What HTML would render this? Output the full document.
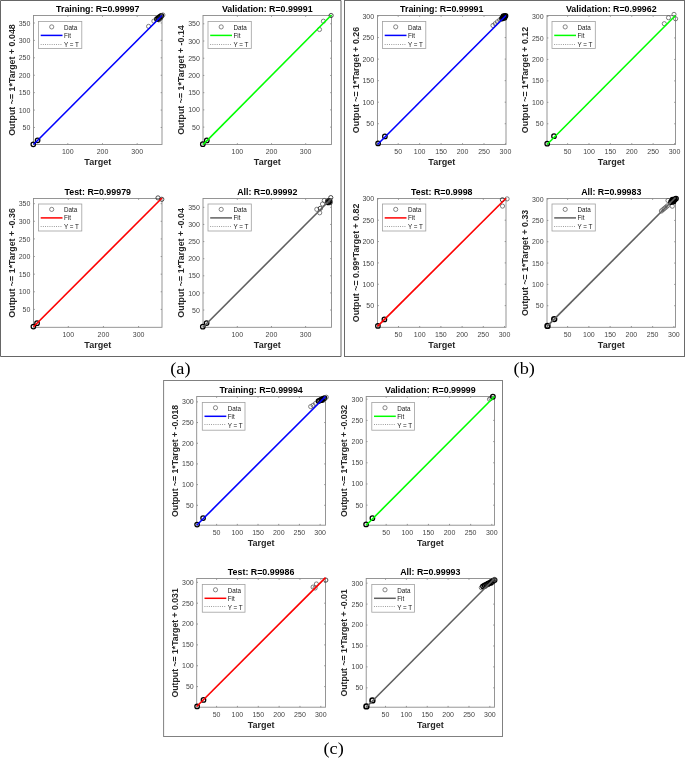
<!DOCTYPE html>
<html><head><meta charset="utf-8"><title>Regression plots</title>
<style>
html,body{margin:0;padding:0;background:#fff;}
body{width:685px;height:758px;overflow:hidden;}
svg{display:block;will-change:transform;}
.tk{font-family:"Liberation Sans", sans-serif;font-size:7px;fill:#444;}
.lg{font-family:"Liberation Sans", sans-serif;font-size:6.3px;fill:#1a1a1a;}
.tt{font-family:"Liberation Sans", sans-serif;font-size:8.85px;font-weight:bold;fill:#000;}
.lb{font-family:"Liberation Sans", sans-serif;font-size:9px;font-weight:bold;fill:#262626;}
.dc{fill:none;stroke:#222;stroke-width:0.8;}
.dg{fill:none;stroke:#555;stroke-width:0.75;}
.dh{fill:none;stroke:#000;stroke-width:1.25;}
.dx{fill:none;stroke:#000;stroke-width:1.6;}
.pl{font-family:"Liberation Serif", serif;font-size:18.3px;fill:#000;}
</style></head><body>
<svg width="685" height="758" viewBox="0 0 685 758">
<rect width="685" height="758" fill="#fff"/>
<path d="M0.5 0.5H341M0.5 0.5V356.5H341M341 0.5V356.5" fill="none" stroke="#666" stroke-width="1"/>
<rect x="344.5" y="0.5" width="340" height="356" fill="none" stroke="#6a6a6a" stroke-width="1"/>
<rect x="163.6" y="380.5" width="338.9" height="356" fill="none" stroke="#808080" stroke-width="1"/>
<rect x="33.5" y="15.5" width="128.5" height="129" fill="#fff" stroke="#8a8a8a" stroke-width="0.9"/>
<path d="M67.8 144.5v-1.3M67.8 15.5v1.3M102.49 144.5v-1.3M102.49 15.5v1.3M137.19 144.5v-1.3M137.19 15.5v1.3M33.5 127.48h1.3M162 127.48h-1.3M33.5 110.07h1.3M162 110.07h-1.3M33.5 92.65h1.3M162 92.65h-1.3M33.5 75.24h1.3M162 75.24h-1.3M33.5 57.82h1.3M162 57.82h-1.3M33.5 40.4h1.3M162 40.4h-1.3M33.5 22.99h1.3M162 22.99h-1.3" stroke="#8a8a8a" stroke-width="0.9" fill="none"/>
<text x="67.8" y="153.9" text-anchor="middle" class="tk">100</text>
<text x="102.49" y="153.9" text-anchor="middle" class="tk">200</text>
<text x="137.19" y="153.9" text-anchor="middle" class="tk">300</text>
<text x="30.4" y="130.08" text-anchor="end" class="tk">50</text>
<text x="30.4" y="112.67" text-anchor="end" class="tk">100</text>
<text x="30.4" y="95.25" text-anchor="end" class="tk">150</text>
<text x="30.4" y="77.84" text-anchor="end" class="tk">200</text>
<text x="30.4" y="60.42" text-anchor="end" class="tk">250</text>
<text x="30.4" y="43" text-anchor="end" class="tk">300</text>
<text x="30.4" y="25.59" text-anchor="end" class="tk">350</text>
<line x1="33.5" y1="144.5" x2="162" y2="15.5" stroke="#999" stroke-width="0.6" stroke-dasharray="0.8 1.2"/>
<circle cx="33.3" cy="144.35" r="2.25" class="dh"/>
<circle cx="37.6" cy="140.3" r="2.25" class="dh"/>
<circle cx="148.6" cy="26.4" r="2.1" class="dg"/>
<circle cx="153.9" cy="21.1" r="2.1" class="dg"/>
<circle cx="157" cy="19.2" r="2.25" class="dh"/>
<circle cx="158.43" cy="18.07" r="2.25" class="dh"/>
<circle cx="159.87" cy="16.93" r="2.25" class="dh"/>
<circle cx="161.3" cy="15.8" r="2.25" class="dh"/>
<circle cx="162.9" cy="15" r="2.1" class="dg"/>
<circle cx="158.8" cy="19.8" r="2.1" class="dc"/>
<circle cx="160.5" cy="18.2" r="2.1" class="dc"/>
<line x1="33.5" y1="144.5" x2="162" y2="15.5" stroke="#0000ff" stroke-width="1.6"/>
<rect x="38.5" y="21.5" width="43.3" height="27.0" fill="#fff" stroke="#a0a0a0" stroke-width="0.8"/>
<circle cx="51.7" cy="26.9" r="2.1" fill="none" stroke="#555" stroke-width="0.7"/>
<line x1="40.7" y1="35.4" x2="62.5" y2="35.4" stroke="#0000ff" stroke-width="1.5"/>
<line x1="40.7" y1="44.5" x2="62.5" y2="44.5" stroke="#777" stroke-width="0.8" stroke-dasharray="0.9 1.3"/>
<text x="63.9" y="29.7" class="lg">Data</text>
<text x="63.9" y="37.8" class="lg">Fit</text>
<text x="63.9" y="46.8" class="lg">Y = T</text>
<text x="97.75" y="11.7" text-anchor="middle" class="tt">Training: R=0.99997</text>
<text x="97.75" y="165.2" text-anchor="middle" class="lb">Target</text>
<text transform="translate(14.7 80) rotate(-90)" text-anchor="middle" class="lb" style="font-size:8.9px">Output ~= 1*Target + 0.048</text>
<rect x="203" y="15.5" width="128.5" height="129" fill="#fff" stroke="#8a8a8a" stroke-width="0.9"/>
<path d="M237.39 144.5v-1.3M237.39 15.5v1.3M271.54 144.5v-1.3M271.54 15.5v1.3M305.68 144.5v-1.3M305.68 15.5v1.3M203 127.11h1.3M331.5 127.11h-1.3M203 109.89h1.3M331.5 109.89h-1.3M203 92.67h1.3M331.5 92.67h-1.3M203 75.45h1.3M331.5 75.45h-1.3M203 58.24h1.3M331.5 58.24h-1.3M203 41.02h1.3M331.5 41.02h-1.3M203 23.8h1.3M331.5 23.8h-1.3" stroke="#8a8a8a" stroke-width="0.9" fill="none"/>
<text x="237.39" y="153.9" text-anchor="middle" class="tk">100</text>
<text x="271.54" y="153.9" text-anchor="middle" class="tk">200</text>
<text x="305.68" y="153.9" text-anchor="middle" class="tk">300</text>
<text x="199.9" y="129.71" text-anchor="end" class="tk">50</text>
<text x="199.9" y="112.49" text-anchor="end" class="tk">100</text>
<text x="199.9" y="95.27" text-anchor="end" class="tk">150</text>
<text x="199.9" y="78.05" text-anchor="end" class="tk">200</text>
<text x="199.9" y="60.84" text-anchor="end" class="tk">250</text>
<text x="199.9" y="43.62" text-anchor="end" class="tk">300</text>
<text x="199.9" y="26.4" text-anchor="end" class="tk">350</text>
<line x1="203" y1="144.5" x2="331.5" y2="15.5" stroke="#999" stroke-width="0.6" stroke-dasharray="0.8 1.2"/>
<circle cx="202.8" cy="144.2" r="2.25" class="dh"/>
<circle cx="206.8" cy="140.4" r="2.25" class="dh"/>
<circle cx="319.5" cy="29.5" r="2.1" class="dg"/>
<circle cx="323.4" cy="21.2" r="2.1" class="dg"/>
<circle cx="331.1" cy="15.5" r="2.1" class="dc"/>
<line x1="203" y1="144.57" x2="331.5" y2="14.98" stroke="#00ff00" stroke-width="1.6"/>
<rect x="208" y="21.5" width="43.3" height="27.0" fill="#fff" stroke="#a0a0a0" stroke-width="0.8"/>
<circle cx="221.2" cy="26.9" r="2.1" fill="none" stroke="#555" stroke-width="0.7"/>
<line x1="210.2" y1="35.4" x2="232" y2="35.4" stroke="#00ff00" stroke-width="1.5"/>
<line x1="210.2" y1="44.5" x2="232" y2="44.5" stroke="#777" stroke-width="0.8" stroke-dasharray="0.9 1.3"/>
<text x="233.4" y="29.7" class="lg">Data</text>
<text x="233.4" y="37.8" class="lg">Fit</text>
<text x="233.4" y="46.8" class="lg">Y = T</text>
<text x="267.25" y="11.7" text-anchor="middle" class="tt">Validation: R=0.99991</text>
<text x="267.25" y="165.2" text-anchor="middle" class="lb">Target</text>
<text transform="translate(184.2 80) rotate(-90)" text-anchor="middle" class="lb" style="font-size:8.9px">Output ~= 1*Target + -0.14</text>
<rect x="33.5" y="198.5" width="128.5" height="128.8" fill="#fff" stroke="#8a8a8a" stroke-width="0.9"/>
<path d="M68.3 327.3v-1.3M68.3 198.5v1.3M103.44 327.3v-1.3M103.44 198.5v1.3M138.59 327.3v-1.3M138.59 198.5v1.3M33.5 309.4h1.3M162 309.4h-1.3M33.5 291.78h1.3M162 291.78h-1.3M33.5 274.16h1.3M162 274.16h-1.3M33.5 256.54h1.3M162 256.54h-1.3M33.5 238.92h1.3M162 238.92h-1.3M33.5 221.3h1.3M162 221.3h-1.3M33.5 203.68h1.3M162 203.68h-1.3" stroke="#8a8a8a" stroke-width="0.9" fill="none"/>
<text x="68.3" y="336.7" text-anchor="middle" class="tk">100</text>
<text x="103.44" y="336.7" text-anchor="middle" class="tk">200</text>
<text x="138.59" y="336.7" text-anchor="middle" class="tk">300</text>
<text x="30.4" y="312" text-anchor="end" class="tk">50</text>
<text x="30.4" y="294.38" text-anchor="end" class="tk">100</text>
<text x="30.4" y="276.76" text-anchor="end" class="tk">150</text>
<text x="30.4" y="259.14" text-anchor="end" class="tk">200</text>
<text x="30.4" y="241.52" text-anchor="end" class="tk">250</text>
<text x="30.4" y="223.9" text-anchor="end" class="tk">300</text>
<text x="30.4" y="206.28" text-anchor="end" class="tk">350</text>
<line x1="33.5" y1="327.3" x2="162" y2="198.5" stroke="#999" stroke-width="0.6" stroke-dasharray="0.8 1.2"/>
<circle cx="33.4" cy="326.6" r="2.25" class="dh"/>
<circle cx="37.05" cy="323.2" r="2.25" class="dh"/>
<circle cx="158" cy="197.9" r="2.1" class="dc"/>
<circle cx="161.8" cy="199.3" r="2.1" class="dc"/>
<line x1="33.5" y1="326.79" x2="162" y2="197.96" stroke="#ff0000" stroke-width="1.6"/>
<rect x="38.5" y="204" width="43.3" height="27.0" fill="#fff" stroke="#a0a0a0" stroke-width="0.8"/>
<circle cx="51.7" cy="209.4" r="2.1" fill="none" stroke="#555" stroke-width="0.7"/>
<line x1="40.7" y1="217.9" x2="62.5" y2="217.9" stroke="#ff0000" stroke-width="1.5"/>
<line x1="40.7" y1="226.5" x2="62.5" y2="226.5" stroke="#777" stroke-width="0.8" stroke-dasharray="0.9 1.3"/>
<text x="63.9" y="212.2" class="lg">Data</text>
<text x="63.9" y="220.3" class="lg">Fit</text>
<text x="63.9" y="229.3" class="lg">Y = T</text>
<text x="97.75" y="194.7" text-anchor="middle" class="tt">Test: R=0.99979</text>
<text x="97.75" y="348" text-anchor="middle" class="lb">Target</text>
<text transform="translate(14.7 262.9) rotate(-90)" text-anchor="middle" class="lb" style="font-size:8.9px">Output ~= 1*Target + -0.36</text>
<rect x="203" y="198.5" width="128.5" height="128.8" fill="#fff" stroke="#8a8a8a" stroke-width="0.9"/>
<path d="M237.3 327.3v-1.3M237.3 198.5v1.3M271.46 327.3v-1.3M271.46 198.5v1.3M305.61 327.3v-1.3M305.61 198.5v1.3M203 310.03h1.3M331.5 310.03h-1.3M203 292.92h1.3M331.5 292.92h-1.3M203 275.8h1.3M331.5 275.8h-1.3M203 258.68h1.3M331.5 258.68h-1.3M203 241.57h1.3M331.5 241.57h-1.3M203 224.45h1.3M331.5 224.45h-1.3M203 207.33h1.3M331.5 207.33h-1.3" stroke="#8a8a8a" stroke-width="0.9" fill="none"/>
<text x="237.3" y="336.7" text-anchor="middle" class="tk">100</text>
<text x="271.46" y="336.7" text-anchor="middle" class="tk">200</text>
<text x="305.61" y="336.7" text-anchor="middle" class="tk">300</text>
<text x="199.9" y="312.63" text-anchor="end" class="tk">50</text>
<text x="199.9" y="295.52" text-anchor="end" class="tk">100</text>
<text x="199.9" y="278.4" text-anchor="end" class="tk">150</text>
<text x="199.9" y="261.28" text-anchor="end" class="tk">200</text>
<text x="199.9" y="244.17" text-anchor="end" class="tk">250</text>
<text x="199.9" y="227.05" text-anchor="end" class="tk">300</text>
<text x="199.9" y="209.93" text-anchor="end" class="tk">350</text>
<line x1="203" y1="327.3" x2="331.5" y2="198.5" stroke="#999" stroke-width="0.6" stroke-dasharray="0.8 1.2"/>
<circle cx="202.8" cy="326.7" r="2.25" class="dh"/>
<circle cx="206.6" cy="323.1" r="2.25" class="dh"/>
<circle cx="316.8" cy="209.3" r="2.1" class="dg"/>
<circle cx="319.7" cy="212.8" r="2.1" class="dg"/>
<circle cx="320.3" cy="208.4" r="2.1" class="dc"/>
<circle cx="322.5" cy="204" r="2.1" class="dg"/>
<circle cx="324.3" cy="200.5" r="2.1" class="dg"/>
<circle cx="328.3" cy="202.4" r="2.25" class="dh"/>
<circle cx="329.6" cy="201" r="2.25" class="dh"/>
<circle cx="328.7" cy="200.6" r="2.1" class="dc"/>
<circle cx="330.2" cy="202.6" r="2.1" class="dc"/>
<circle cx="327.4" cy="201.2" r="2.1" class="dc"/>
<circle cx="330.8" cy="197.6" r="2.1" class="dc"/>
<line x1="203" y1="327.3" x2="331.5" y2="198.5" stroke="#606060" stroke-width="1.6"/>
<rect x="208" y="204" width="43.3" height="27.0" fill="#fff" stroke="#a0a0a0" stroke-width="0.8"/>
<circle cx="221.2" cy="209.4" r="2.1" fill="none" stroke="#555" stroke-width="0.7"/>
<line x1="210.2" y1="217.9" x2="232" y2="217.9" stroke="#606060" stroke-width="1.5"/>
<line x1="210.2" y1="226.5" x2="232" y2="226.5" stroke="#777" stroke-width="0.8" stroke-dasharray="0.9 1.3"/>
<text x="233.4" y="212.2" class="lg">Data</text>
<text x="233.4" y="220.3" class="lg">Fit</text>
<text x="233.4" y="229.3" class="lg">Y = T</text>
<text x="267.25" y="194.7" text-anchor="middle" class="tt">All: R=0.99992</text>
<text x="267.25" y="348" text-anchor="middle" class="lb">Target</text>
<text transform="translate(184.2 262.9) rotate(-90)" text-anchor="middle" class="lb" style="font-size:8.9px">Output ~= 1*Target + -0.04</text>
<rect x="377.5" y="15.5" width="128.5" height="129" fill="#fff" stroke="#8a8a8a" stroke-width="0.9"/>
<path d="M398.2 144.5v-1.3M398.2 15.5v1.3M419.65 144.5v-1.3M419.65 15.5v1.3M441.1 144.5v-1.3M441.1 15.5v1.3M462.54 144.5v-1.3M462.54 15.5v1.3M483.99 144.5v-1.3M483.99 15.5v1.3M505.44 144.5v-1.3M505.44 15.5v1.3M377.5 123.72h1.3M506 123.72h-1.3M377.5 102.19h1.3M506 102.19h-1.3M377.5 80.66h1.3M506 80.66h-1.3M377.5 59.12h1.3M506 59.12h-1.3M377.5 37.59h1.3M506 37.59h-1.3M377.5 16.06h1.3M506 16.06h-1.3" stroke="#8a8a8a" stroke-width="0.9" fill="none"/>
<text x="398.2" y="153.9" text-anchor="middle" class="tk">50</text>
<text x="419.65" y="153.9" text-anchor="middle" class="tk">100</text>
<text x="441.1" y="153.9" text-anchor="middle" class="tk">150</text>
<text x="462.54" y="153.9" text-anchor="middle" class="tk">200</text>
<text x="483.99" y="153.9" text-anchor="middle" class="tk">250</text>
<text x="505.44" y="153.9" text-anchor="middle" class="tk">300</text>
<text x="374.1" y="126.32" text-anchor="end" class="tk">50</text>
<text x="374.1" y="104.79" text-anchor="end" class="tk">100</text>
<text x="374.1" y="83.26" text-anchor="end" class="tk">150</text>
<text x="374.1" y="61.72" text-anchor="end" class="tk">200</text>
<text x="374.1" y="40.19" text-anchor="end" class="tk">250</text>
<text x="374.1" y="18.66" text-anchor="end" class="tk">300</text>
<line x1="377.5" y1="144.5" x2="506" y2="15.5" stroke="#999" stroke-width="0.6" stroke-dasharray="0.8 1.2"/>
<circle cx="378.1" cy="143.4" r="2.25" class="dh"/>
<circle cx="384.9" cy="136.4" r="2.25" class="dh"/>
<circle cx="493" cy="25.5" r="2.1" class="dg"/>
<circle cx="495.2" cy="23.7" r="2.1" class="dg"/>
<circle cx="497.4" cy="21.8" r="2.1" class="dg"/>
<circle cx="499.6" cy="20" r="2.1" class="dg"/>
<circle cx="502" cy="18.5" r="2.25" class="dh"/>
<circle cx="502.88" cy="17.82" r="2.25" class="dh"/>
<circle cx="503.75" cy="17.15" r="2.25" class="dh"/>
<circle cx="504.62" cy="16.48" r="2.25" class="dh"/>
<circle cx="505.5" cy="15.8" r="2.25" class="dh"/>
<circle cx="504.5" cy="17.8" r="2.25" class="dh"/>
<circle cx="503.5" cy="16.2" r="2.25" class="dh"/>
<line x1="377.5" y1="144.5" x2="506" y2="15.5" stroke="#0000ff" stroke-width="1.6"/>
<rect x="382.5" y="21.5" width="43.3" height="27.0" fill="#fff" stroke="#a0a0a0" stroke-width="0.8"/>
<circle cx="395.7" cy="26.9" r="2.1" fill="none" stroke="#555" stroke-width="0.7"/>
<line x1="384.7" y1="35.4" x2="406.5" y2="35.4" stroke="#0000ff" stroke-width="1.5"/>
<line x1="384.7" y1="44.5" x2="406.5" y2="44.5" stroke="#777" stroke-width="0.8" stroke-dasharray="0.9 1.3"/>
<text x="407.9" y="29.7" class="lg">Data</text>
<text x="407.9" y="37.8" class="lg">Fit</text>
<text x="407.9" y="46.8" class="lg">Y = T</text>
<text x="441.75" y="11.7" text-anchor="middle" class="tt">Training: R=0.99991</text>
<text x="441.75" y="165.2" text-anchor="middle" class="lb">Target</text>
<text transform="translate(358.7 80) rotate(-90)" text-anchor="middle" class="lb" style="font-size:8.85px">Output ~= 1*Target + 0.26</text>
<rect x="547" y="15.5" width="128.5" height="129" fill="#fff" stroke="#8a8a8a" stroke-width="0.9"/>
<path d="M567.61 144.5v-1.3M567.61 15.5v1.3M588.99 144.5v-1.3M588.99 15.5v1.3M610.37 144.5v-1.3M610.37 15.5v1.3M631.75 144.5v-1.3M631.75 15.5v1.3M653.14 144.5v-1.3M653.14 15.5v1.3M674.52 144.5v-1.3M674.52 15.5v1.3M547 123.81h1.3M675.5 123.81h-1.3M547 102.34h1.3M675.5 102.34h-1.3M547 80.88h1.3M675.5 80.88h-1.3M547 59.42h1.3M675.5 59.42h-1.3M547 37.95h1.3M675.5 37.95h-1.3M547 16.49h1.3M675.5 16.49h-1.3" stroke="#8a8a8a" stroke-width="0.9" fill="none"/>
<text x="567.61" y="153.9" text-anchor="middle" class="tk">50</text>
<text x="588.99" y="153.9" text-anchor="middle" class="tk">100</text>
<text x="610.37" y="153.9" text-anchor="middle" class="tk">150</text>
<text x="631.75" y="153.9" text-anchor="middle" class="tk">200</text>
<text x="653.14" y="153.9" text-anchor="middle" class="tk">250</text>
<text x="674.52" y="153.9" text-anchor="middle" class="tk">300</text>
<text x="543.6" y="126.41" text-anchor="end" class="tk">50</text>
<text x="543.6" y="104.94" text-anchor="end" class="tk">100</text>
<text x="543.6" y="83.48" text-anchor="end" class="tk">150</text>
<text x="543.6" y="62.02" text-anchor="end" class="tk">200</text>
<text x="543.6" y="40.55" text-anchor="end" class="tk">250</text>
<text x="543.6" y="19.09" text-anchor="end" class="tk">300</text>
<line x1="547" y1="144.5" x2="675.5" y2="15.5" stroke="#999" stroke-width="0.6" stroke-dasharray="0.8 1.2"/>
<circle cx="547.2" cy="143.7" r="2.25" class="dh"/>
<circle cx="554" cy="136.2" r="2.25" class="dh"/>
<circle cx="664.3" cy="23.7" r="2.1" class="dg"/>
<circle cx="668.5" cy="17.7" r="2.1" class="dg"/>
<circle cx="674" cy="14.4" r="2.1" class="dg"/>
<circle cx="675.6" cy="18.8" r="2.1" class="dg"/>
<line x1="547" y1="144.5" x2="675.5" y2="15.5" stroke="#00ff00" stroke-width="1.6"/>
<rect x="552" y="21.5" width="43.3" height="27.0" fill="#fff" stroke="#a0a0a0" stroke-width="0.8"/>
<circle cx="565.2" cy="26.9" r="2.1" fill="none" stroke="#555" stroke-width="0.7"/>
<line x1="554.2" y1="35.4" x2="576" y2="35.4" stroke="#00ff00" stroke-width="1.5"/>
<line x1="554.2" y1="44.5" x2="576" y2="44.5" stroke="#777" stroke-width="0.8" stroke-dasharray="0.9 1.3"/>
<text x="577.4" y="29.7" class="lg">Data</text>
<text x="577.4" y="37.8" class="lg">Fit</text>
<text x="577.4" y="46.8" class="lg">Y = T</text>
<text x="611.25" y="11.7" text-anchor="middle" class="tt">Validation: R=0.99962</text>
<text x="611.25" y="165.2" text-anchor="middle" class="lb">Target</text>
<text transform="translate(528.2 80) rotate(-90)" text-anchor="middle" class="lb" style="font-size:8.85px">Output ~= 1*Target + 0.12</text>
<rect x="377.5" y="198.5" width="128.5" height="128.8" fill="#fff" stroke="#8a8a8a" stroke-width="0.9"/>
<path d="M398.49 327.3v-1.3M398.49 198.5v1.3M419.7 327.3v-1.3M419.7 198.5v1.3M440.9 327.3v-1.3M440.9 198.5v1.3M462.11 327.3v-1.3M462.11 198.5v1.3M483.31 327.3v-1.3M483.31 198.5v1.3M504.52 327.3v-1.3M504.52 198.5v1.3M377.5 305.61h1.3M506 305.61h-1.3M377.5 284.25h1.3M506 284.25h-1.3M377.5 262.9h1.3M506 262.9h-1.3M377.5 241.55h1.3M506 241.55h-1.3M377.5 220.19h1.3M506 220.19h-1.3M377.5 198.84h1.3M506 198.84h-1.3" stroke="#8a8a8a" stroke-width="0.9" fill="none"/>
<text x="398.49" y="336.7" text-anchor="middle" class="tk">50</text>
<text x="419.7" y="336.7" text-anchor="middle" class="tk">100</text>
<text x="440.9" y="336.7" text-anchor="middle" class="tk">150</text>
<text x="462.11" y="336.7" text-anchor="middle" class="tk">200</text>
<text x="483.31" y="336.7" text-anchor="middle" class="tk">250</text>
<text x="504.52" y="336.7" text-anchor="middle" class="tk">300</text>
<text x="374.1" y="308.21" text-anchor="end" class="tk">50</text>
<text x="374.1" y="286.85" text-anchor="end" class="tk">100</text>
<text x="374.1" y="265.5" text-anchor="end" class="tk">150</text>
<text x="374.1" y="244.15" text-anchor="end" class="tk">200</text>
<text x="374.1" y="222.79" text-anchor="end" class="tk">250</text>
<text x="374.1" y="201.44" text-anchor="end" class="tk">300</text>
<line x1="377.5" y1="327.3" x2="506" y2="198.5" stroke="#999" stroke-width="0.6" stroke-dasharray="0.8 1.2"/>
<circle cx="377.9" cy="325.9" r="2.25" class="dh"/>
<circle cx="384.4" cy="319.4" r="2.25" class="dh"/>
<circle cx="502.4" cy="199.8" r="2.1" class="dc"/>
<circle cx="507.1" cy="198.9" r="2.1" class="dg"/>
<circle cx="502.5" cy="206.1" r="2.1" class="dg"/>
<line x1="377.5" y1="326.4" x2="506" y2="198.29" stroke="#ff0000" stroke-width="1.6"/>
<rect x="382.5" y="204" width="43.3" height="27.0" fill="#fff" stroke="#a0a0a0" stroke-width="0.8"/>
<circle cx="395.7" cy="209.4" r="2.1" fill="none" stroke="#555" stroke-width="0.7"/>
<line x1="384.7" y1="217.9" x2="406.5" y2="217.9" stroke="#ff0000" stroke-width="1.5"/>
<line x1="384.7" y1="226.5" x2="406.5" y2="226.5" stroke="#777" stroke-width="0.8" stroke-dasharray="0.9 1.3"/>
<text x="407.9" y="212.2" class="lg">Data</text>
<text x="407.9" y="220.3" class="lg">Fit</text>
<text x="407.9" y="229.3" class="lg">Y = T</text>
<text x="441.75" y="194.7" text-anchor="middle" class="tt">Test: R=0.9998</text>
<text x="441.75" y="348" text-anchor="middle" class="lb">Target</text>
<text transform="translate(358.7 262.9) rotate(-90)" text-anchor="middle" class="lb" style="font-size:8.85px">Output ~= 0.99*Target + 0.82</text>
<rect x="547" y="198.5" width="128.5" height="128.8" fill="#fff" stroke="#8a8a8a" stroke-width="0.9"/>
<path d="M567.6 327.3v-1.3M567.6 198.5v1.3M588.86 327.3v-1.3M588.86 198.5v1.3M610.11 327.3v-1.3M610.11 198.5v1.3M631.37 327.3v-1.3M631.37 198.5v1.3M652.63 327.3v-1.3M652.63 198.5v1.3M673.88 327.3v-1.3M673.88 198.5v1.3M547 305.72h1.3M675.5 305.72h-1.3M547 284.4h1.3M675.5 284.4h-1.3M547 263.07h1.3M675.5 263.07h-1.3M547 241.75h1.3M675.5 241.75h-1.3M547 220.42h1.3M675.5 220.42h-1.3M547 199.1h1.3M675.5 199.1h-1.3" stroke="#8a8a8a" stroke-width="0.9" fill="none"/>
<text x="567.6" y="336.7" text-anchor="middle" class="tk">50</text>
<text x="588.86" y="336.7" text-anchor="middle" class="tk">100</text>
<text x="610.11" y="336.7" text-anchor="middle" class="tk">150</text>
<text x="631.37" y="336.7" text-anchor="middle" class="tk">200</text>
<text x="652.63" y="336.7" text-anchor="middle" class="tk">250</text>
<text x="673.88" y="336.7" text-anchor="middle" class="tk">300</text>
<text x="543.6" y="308.32" text-anchor="end" class="tk">50</text>
<text x="543.6" y="287" text-anchor="end" class="tk">100</text>
<text x="543.6" y="265.67" text-anchor="end" class="tk">150</text>
<text x="543.6" y="244.35" text-anchor="end" class="tk">200</text>
<text x="543.6" y="223.02" text-anchor="end" class="tk">250</text>
<text x="543.6" y="201.7" text-anchor="end" class="tk">300</text>
<line x1="547" y1="327.3" x2="675.5" y2="198.5" stroke="#999" stroke-width="0.6" stroke-dasharray="0.8 1.2"/>
<circle cx="547.5" cy="325.9" r="2.4" class="dx"/>
<circle cx="554.2" cy="319.1" r="2.4" class="dx"/>
<circle cx="668" cy="200.5" r="2.1" class="dg"/>
<circle cx="672.3" cy="206.2" r="2.1" class="dg"/>
<circle cx="661.4" cy="211" r="2.1" class="dg"/>
<circle cx="662.92" cy="209.7" r="2.1" class="dg"/>
<circle cx="664.45" cy="208.4" r="2.1" class="dg"/>
<circle cx="665.98" cy="207.1" r="2.1" class="dg"/>
<circle cx="667.5" cy="205.8" r="2.1" class="dg"/>
<circle cx="671" cy="202" r="2.25" class="dh"/>
<circle cx="672.25" cy="201.12" r="2.25" class="dh"/>
<circle cx="673.5" cy="200.25" r="2.25" class="dh"/>
<circle cx="674.75" cy="199.38" r="2.25" class="dh"/>
<circle cx="676" cy="198.5" r="2.25" class="dh"/>
<circle cx="673.5" cy="201.5" r="2.25" class="dh"/>
<circle cx="674.5" cy="199.5" r="2.25" class="dh"/>
<circle cx="672.5" cy="199.5" r="2.25" class="dh"/>
<line x1="547" y1="326.38" x2="675.5" y2="197.48" stroke="#606060" stroke-width="1.6"/>
<rect x="552" y="204" width="43.3" height="27.0" fill="#fff" stroke="#a0a0a0" stroke-width="0.8"/>
<circle cx="565.2" cy="209.4" r="2.1" fill="none" stroke="#555" stroke-width="0.7"/>
<line x1="554.2" y1="217.9" x2="576" y2="217.9" stroke="#606060" stroke-width="1.5"/>
<line x1="554.2" y1="226.5" x2="576" y2="226.5" stroke="#777" stroke-width="0.8" stroke-dasharray="0.9 1.3"/>
<text x="577.4" y="212.2" class="lg">Data</text>
<text x="577.4" y="220.3" class="lg">Fit</text>
<text x="577.4" y="229.3" class="lg">Y = T</text>
<text x="611.25" y="194.7" text-anchor="middle" class="tt">All: R=0.99983</text>
<text x="611.25" y="348" text-anchor="middle" class="lb">Target</text>
<text transform="translate(528.2 262.9) rotate(-90)" text-anchor="middle" class="lb" style="font-size:8.85px">Output ~= 1*Target + 0.33</text>
<rect x="196.7" y="396.5" width="128.8" height="128.7" fill="#fff" stroke="#8a8a8a" stroke-width="0.9"/>
<path d="M216.61 525.2v-1.3M216.61 396.5v1.3M237.31 525.2v-1.3M237.31 396.5v1.3M258.02 525.2v-1.3M258.02 396.5v1.3M278.72 525.2v-1.3M278.72 396.5v1.3M299.42 525.2v-1.3M299.42 396.5v1.3M320.12 525.2v-1.3M320.12 396.5v1.3M196.7 505.3h1.3M325.5 505.3h-1.3M196.7 484.62h1.3M325.5 484.62h-1.3M196.7 463.93h1.3M325.5 463.93h-1.3M196.7 443.25h1.3M325.5 443.25h-1.3M196.7 422.56h1.3M325.5 422.56h-1.3M196.7 401.88h1.3M325.5 401.88h-1.3" stroke="#8a8a8a" stroke-width="0.9" fill="none"/>
<text x="216.61" y="534.6" text-anchor="middle" class="tk">50</text>
<text x="237.31" y="534.6" text-anchor="middle" class="tk">100</text>
<text x="258.02" y="534.6" text-anchor="middle" class="tk">150</text>
<text x="278.72" y="534.6" text-anchor="middle" class="tk">200</text>
<text x="299.42" y="534.6" text-anchor="middle" class="tk">250</text>
<text x="320.12" y="534.6" text-anchor="middle" class="tk">300</text>
<text x="193.7" y="507.7" text-anchor="end" class="tk">50</text>
<text x="193.7" y="487.02" text-anchor="end" class="tk">100</text>
<text x="193.7" y="466.33" text-anchor="end" class="tk">150</text>
<text x="193.7" y="445.65" text-anchor="end" class="tk">200</text>
<text x="193.7" y="424.96" text-anchor="end" class="tk">250</text>
<text x="193.7" y="404.28" text-anchor="end" class="tk">300</text>
<line x1="196.7" y1="525.2" x2="325.5" y2="396.5" stroke="#999" stroke-width="0.6" stroke-dasharray="0.8 1.2"/>
<circle cx="197.1" cy="524.5" r="2.25" class="dh"/>
<circle cx="203.1" cy="518.1" r="2.25" class="dh"/>
<circle cx="310.7" cy="406.6" r="2.1" class="dg"/>
<circle cx="313.1" cy="405.3" r="2.1" class="dg"/>
<circle cx="315.5" cy="403.5" r="2.1" class="dg"/>
<circle cx="318.5" cy="401" r="2.25" class="dh"/>
<circle cx="320" cy="400.25" r="2.25" class="dh"/>
<circle cx="321.5" cy="399.5" r="2.25" class="dh"/>
<circle cx="323" cy="398.75" r="2.25" class="dh"/>
<circle cx="324.5" cy="398" r="2.25" class="dh"/>
<circle cx="322" cy="400" r="2.25" class="dh"/>
<circle cx="326.3" cy="397.2" r="2.1" class="dg"/>
<line x1="196.7" y1="525.2" x2="325.5" y2="396.5" stroke="#0000ff" stroke-width="1.6"/>
<rect x="202.3" y="402.4" width="42.7" height="27.8" fill="#fff" stroke="#a0a0a0" stroke-width="0.8"/>
<circle cx="215.5" cy="407.8" r="2.1" fill="none" stroke="#555" stroke-width="0.7"/>
<line x1="204.5" y1="416.3" x2="226.3" y2="416.3" stroke="#0000ff" stroke-width="1.5"/>
<line x1="204.5" y1="424.5" x2="226.3" y2="424.5" stroke="#777" stroke-width="0.8" stroke-dasharray="0.9 1.3"/>
<text x="227.7" y="410.6" class="lg">Data</text>
<text x="227.7" y="418.7" class="lg">Fit</text>
<text x="227.7" y="427.7" class="lg">Y = T</text>
<text x="261.1" y="392.7" text-anchor="middle" class="tt">Training: R=0.99994</text>
<text x="261.1" y="545.9" text-anchor="middle" class="lb">Target</text>
<text transform="translate(177.9 460.85) rotate(-90)" text-anchor="middle" class="lb" style="font-size:8.7px">Output ~= 1*Target + -0.018</text>
<rect x="366.2" y="396.5" width="128.3" height="128.7" fill="#fff" stroke="#8a8a8a" stroke-width="0.9"/>
<path d="M386.18 525.2v-1.3M386.18 396.5v1.3M407.31 525.2v-1.3M407.31 396.5v1.3M428.43 525.2v-1.3M428.43 396.5v1.3M449.55 525.2v-1.3M449.55 396.5v1.3M470.67 525.2v-1.3M470.67 396.5v1.3M491.8 525.2v-1.3M491.8 396.5v1.3M366.2 505.16h1.3M494.5 505.16h-1.3M366.2 483.97h1.3M494.5 483.97h-1.3M366.2 462.78h1.3M494.5 462.78h-1.3M366.2 441.59h1.3M494.5 441.59h-1.3M366.2 420.4h1.3M494.5 420.4h-1.3M366.2 399.21h1.3M494.5 399.21h-1.3" stroke="#8a8a8a" stroke-width="0.9" fill="none"/>
<text x="386.18" y="534.6" text-anchor="middle" class="tk">50</text>
<text x="407.31" y="534.6" text-anchor="middle" class="tk">100</text>
<text x="428.43" y="534.6" text-anchor="middle" class="tk">150</text>
<text x="449.55" y="534.6" text-anchor="middle" class="tk">200</text>
<text x="470.67" y="534.6" text-anchor="middle" class="tk">250</text>
<text x="491.8" y="534.6" text-anchor="middle" class="tk">300</text>
<text x="363.2" y="507.56" text-anchor="end" class="tk">50</text>
<text x="363.2" y="486.37" text-anchor="end" class="tk">100</text>
<text x="363.2" y="465.18" text-anchor="end" class="tk">150</text>
<text x="363.2" y="443.99" text-anchor="end" class="tk">200</text>
<text x="363.2" y="422.8" text-anchor="end" class="tk">250</text>
<text x="363.2" y="401.61" text-anchor="end" class="tk">300</text>
<line x1="366.2" y1="525.2" x2="494.5" y2="396.5" stroke="#999" stroke-width="0.6" stroke-dasharray="0.8 1.2"/>
<circle cx="366.1" cy="524.4" r="2.25" class="dh"/>
<circle cx="372.4" cy="518.2" r="2.25" class="dh"/>
<circle cx="489.5" cy="399.2" r="2.1" class="dg"/>
<circle cx="491" cy="398.4" r="2.1" class="dg"/>
<circle cx="492.9" cy="396.7" r="2.25" class="dh"/>
<line x1="366.2" y1="525.2" x2="494.5" y2="396.5" stroke="#00ff00" stroke-width="1.6"/>
<rect x="371.8" y="402.4" width="42.7" height="27.8" fill="#fff" stroke="#a0a0a0" stroke-width="0.8"/>
<circle cx="385" cy="407.8" r="2.1" fill="none" stroke="#555" stroke-width="0.7"/>
<line x1="374" y1="416.3" x2="395.8" y2="416.3" stroke="#00ff00" stroke-width="1.5"/>
<line x1="374" y1="424.5" x2="395.8" y2="424.5" stroke="#777" stroke-width="0.8" stroke-dasharray="0.9 1.3"/>
<text x="397.2" y="410.6" class="lg">Data</text>
<text x="397.2" y="418.7" class="lg">Fit</text>
<text x="397.2" y="427.7" class="lg">Y = T</text>
<text x="430.35" y="392.7" text-anchor="middle" class="tt">Validation: R=0.99999</text>
<text x="430.35" y="545.9" text-anchor="middle" class="lb">Target</text>
<text transform="translate(347.4 460.85) rotate(-90)" text-anchor="middle" class="lb" style="font-size:8.7px">Output ~= 1*Target + -0.032</text>
<rect x="196.7" y="578.5" width="128.8" height="128.7" fill="#fff" stroke="#8a8a8a" stroke-width="0.9"/>
<path d="M216.58 707.2v-1.3M216.58 578.5v1.3M237.42 707.2v-1.3M237.42 578.5v1.3M258.27 707.2v-1.3M258.27 578.5v1.3M279.11 707.2v-1.3M279.11 578.5v1.3M299.95 707.2v-1.3M299.95 578.5v1.3M320.79 707.2v-1.3M320.79 578.5v1.3M196.7 686.6h1.3M325.5 686.6h-1.3M196.7 665.75h1.3M325.5 665.75h-1.3M196.7 644.89h1.3M325.5 644.89h-1.3M196.7 624.04h1.3M325.5 624.04h-1.3M196.7 603.19h1.3M325.5 603.19h-1.3M196.7 582.34h1.3M325.5 582.34h-1.3" stroke="#8a8a8a" stroke-width="0.9" fill="none"/>
<text x="216.58" y="716.6" text-anchor="middle" class="tk">50</text>
<text x="237.42" y="716.6" text-anchor="middle" class="tk">100</text>
<text x="258.27" y="716.6" text-anchor="middle" class="tk">150</text>
<text x="279.11" y="716.6" text-anchor="middle" class="tk">200</text>
<text x="299.95" y="716.6" text-anchor="middle" class="tk">250</text>
<text x="320.79" y="716.6" text-anchor="middle" class="tk">300</text>
<text x="193.7" y="689" text-anchor="end" class="tk">50</text>
<text x="193.7" y="668.15" text-anchor="end" class="tk">100</text>
<text x="193.7" y="647.29" text-anchor="end" class="tk">150</text>
<text x="193.7" y="626.44" text-anchor="end" class="tk">200</text>
<text x="193.7" y="605.59" text-anchor="end" class="tk">250</text>
<text x="193.7" y="584.74" text-anchor="end" class="tk">300</text>
<line x1="196.7" y1="707.2" x2="325.5" y2="578.5" stroke="#999" stroke-width="0.6" stroke-dasharray="0.8 1.2"/>
<circle cx="197.1" cy="706.4" r="2.25" class="dh"/>
<circle cx="203.5" cy="699.9" r="2.25" class="dh"/>
<circle cx="313.1" cy="587.1" r="2.1" class="dg"/>
<circle cx="315.1" cy="588" r="2.1" class="dg"/>
<circle cx="316.4" cy="584" r="2.1" class="dg"/>
<circle cx="325.8" cy="580.1" r="2.1" class="dc"/>
<line x1="196.7" y1="706.49" x2="325.5" y2="577.62" stroke="#ff0000" stroke-width="1.6"/>
<rect x="202.3" y="584.4" width="42.7" height="27.8" fill="#fff" stroke="#a0a0a0" stroke-width="0.8"/>
<circle cx="215.5" cy="589.8" r="2.1" fill="none" stroke="#555" stroke-width="0.7"/>
<line x1="204.5" y1="598.3" x2="226.3" y2="598.3" stroke="#ff0000" stroke-width="1.5"/>
<line x1="204.5" y1="606.5" x2="226.3" y2="606.5" stroke="#777" stroke-width="0.8" stroke-dasharray="0.9 1.3"/>
<text x="227.7" y="592.6" class="lg">Data</text>
<text x="227.7" y="600.7" class="lg">Fit</text>
<text x="227.7" y="609.7" class="lg">Y = T</text>
<text x="261.1" y="574.7" text-anchor="middle" class="tt">Test: R=0.99986</text>
<text x="261.1" y="727.9" text-anchor="middle" class="lb">Target</text>
<text transform="translate(177.9 642.85) rotate(-90)" text-anchor="middle" class="lb" style="font-size:8.7px">Output ~= 1*Target + 0.031</text>
<rect x="366.2" y="578.5" width="128.3" height="128.7" fill="#fff" stroke="#8a8a8a" stroke-width="0.9"/>
<path d="M385.52 707.2v-1.3M385.52 578.5v1.3M406.38 707.2v-1.3M406.38 578.5v1.3M427.24 707.2v-1.3M427.24 578.5v1.3M448.1 707.2v-1.3M448.1 578.5v1.3M468.97 707.2v-1.3M468.97 578.5v1.3M489.83 707.2v-1.3M489.83 578.5v1.3M366.2 687.82h1.3M494.5 687.82h-1.3M366.2 666.89h1.3M494.5 666.89h-1.3M366.2 645.97h1.3M494.5 645.97h-1.3M366.2 625.04h1.3M494.5 625.04h-1.3M366.2 604.11h1.3M494.5 604.11h-1.3M366.2 583.19h1.3M494.5 583.19h-1.3" stroke="#8a8a8a" stroke-width="0.9" fill="none"/>
<text x="385.52" y="716.6" text-anchor="middle" class="tk">50</text>
<text x="406.38" y="716.6" text-anchor="middle" class="tk">100</text>
<text x="427.24" y="716.6" text-anchor="middle" class="tk">150</text>
<text x="448.1" y="716.6" text-anchor="middle" class="tk">200</text>
<text x="468.97" y="716.6" text-anchor="middle" class="tk">250</text>
<text x="489.83" y="716.6" text-anchor="middle" class="tk">300</text>
<text x="363.2" y="690.22" text-anchor="end" class="tk">50</text>
<text x="363.2" y="669.29" text-anchor="end" class="tk">100</text>
<text x="363.2" y="648.37" text-anchor="end" class="tk">150</text>
<text x="363.2" y="627.44" text-anchor="end" class="tk">200</text>
<text x="363.2" y="606.51" text-anchor="end" class="tk">250</text>
<text x="363.2" y="585.59" text-anchor="end" class="tk">300</text>
<line x1="366.2" y1="707.2" x2="494.5" y2="578.5" stroke="#999" stroke-width="0.6" stroke-dasharray="0.8 1.2"/>
<circle cx="366.4" cy="706.4" r="2.4" class="dx"/>
<circle cx="372.4" cy="700.4" r="2.4" class="dx"/>
<circle cx="481.3" cy="587.6" r="2.1" class="dg"/>
<circle cx="483" cy="586.3" r="2.25" class="dh"/>
<circle cx="484.66" cy="585.41" r="2.25" class="dh"/>
<circle cx="486.31" cy="584.53" r="2.25" class="dh"/>
<circle cx="487.97" cy="583.64" r="2.25" class="dh"/>
<circle cx="489.63" cy="582.76" r="2.25" class="dh"/>
<circle cx="491.29" cy="581.87" r="2.25" class="dh"/>
<circle cx="492.94" cy="580.99" r="2.25" class="dh"/>
<circle cx="494.6" cy="580.1" r="2.25" class="dh"/>
<circle cx="485.5" cy="586.2" r="2.1" class="dc"/>
<circle cx="488.5" cy="584.5" r="2.1" class="dc"/>
<circle cx="491" cy="582.8" r="2.25" class="dh"/>
<circle cx="493.3" cy="581.6" r="2.1" class="dc"/>
<circle cx="494.3" cy="579.4" r="2.1" class="dg"/>
<line x1="366.2" y1="707.2" x2="494.5" y2="578.5" stroke="#606060" stroke-width="1.6"/>
<rect x="371.8" y="584.4" width="42.7" height="27.8" fill="#fff" stroke="#a0a0a0" stroke-width="0.8"/>
<circle cx="385" cy="589.8" r="2.1" fill="none" stroke="#555" stroke-width="0.7"/>
<line x1="374" y1="598.3" x2="395.8" y2="598.3" stroke="#606060" stroke-width="1.5"/>
<line x1="374" y1="606.5" x2="395.8" y2="606.5" stroke="#777" stroke-width="0.8" stroke-dasharray="0.9 1.3"/>
<text x="397.2" y="592.6" class="lg">Data</text>
<text x="397.2" y="600.7" class="lg">Fit</text>
<text x="397.2" y="609.7" class="lg">Y = T</text>
<text x="430.35" y="574.7" text-anchor="middle" class="tt">All: R=0.99993</text>
<text x="430.35" y="727.9" text-anchor="middle" class="lb">Target</text>
<text transform="translate(347.4 642.85) rotate(-90)" text-anchor="middle" class="lb" style="font-size:8.7px">Output ~= 1*Target + -0.01</text>
<text transform="translate(180.4 374.3) scale(1 0.95)" text-anchor="middle" class="pl">(a)</text>
<text transform="translate(524.2 374.3) scale(1 0.95)" text-anchor="middle" class="pl">(b)</text>
<text transform="translate(333.6 753.9) scale(1 0.95)" text-anchor="middle" class="pl">(c)</text>
</svg></body></html>
